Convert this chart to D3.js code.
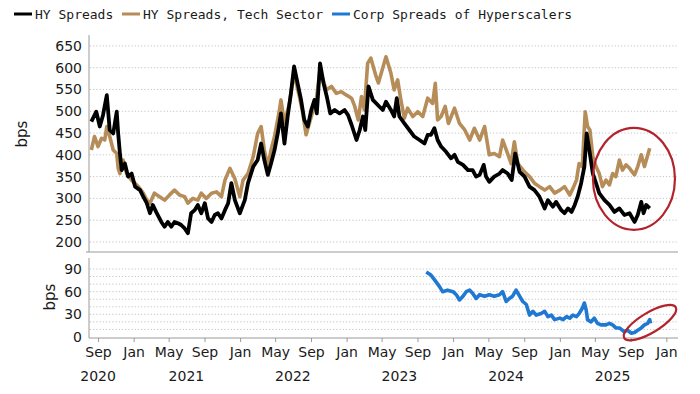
<!DOCTYPE html>
<html>
<head>
<meta charset="utf-8">
<script src="https://cdn.jsdelivr.net/npm/d3@7"></script>
<style>
  body { margin: 0; background: #fff; }
  text { font-family: "DejaVu Sans", sans-serif; }
  .legend text { font-family: "DejaVu Sans Mono", monospace; }
</style>
</head>
<body>
<svg id="vis" width="700" height="394"></svg>
<script>
// HY spreads (black), bps
var hySpreads = [
  ["2020-08-09",476],["2020-08-26",499],["2020-09-07",465],["2020-09-18",491],["2020-10-01",537],["2020-10-11",457],["2020-10-23",449],["2020-11-04",499],["2020-11-09",449],["2020-11-15",403],["2020-11-21",365],["2020-12-02",380],["2020-12-13",350],["2020-12-25",357],
  ["2021-01-06",327],["2021-01-23",319],["2021-02-03",304],["2021-02-15",289],["2021-02-26",266],["2021-03-08",285],["2021-03-19",269],["2021-04-06",246],["2021-04-17",235],["2021-04-28",246],["2021-05-10",235],["2021-05-21",246],["2021-06-02",243],["2021-06-13",239],["2021-06-25",231],["2021-07-06",220],["2021-07-17",266],["2021-07-29",273],["2021-08-09",285],["2021-08-21",266],["2021-09-02",289],["2021-09-13",254],["2021-09-25",246],["2021-10-06",262],["2021-10-17",266],["2021-10-29",254],["2021-11-10",273],["2021-11-21",289],["2021-12-02",335],["2021-12-14",296],["2021-12-31",266],
  ["2022-01-17",296],["2022-01-28",335],["2022-02-15",373],["2022-03-02",388],["2022-03-14",426],["2022-03-25",388],["2022-04-06",354],["2022-04-17",380],["2022-04-29",411],["2022-05-10",449],["2022-05-21",495],["2022-06-02",426],["2022-06-13",488],["2022-06-24",541],["2022-07-05",603],["2022-07-17",564],["2022-07-29",526],["2022-08-09",480],["2022-08-21",465],["2022-09-02",503],["2022-09-13",526],["2022-09-21",495],["2022-10-02",610],["2022-10-14",564],["2022-10-25",534],["2022-11-06",495],["2022-11-21",503],["2022-12-08",495],["2022-12-25",503],
  ["2023-01-06",491],["2023-01-18",469],["2023-02-04",434],["2023-02-15",457],["2023-02-26",488],["2023-03-06",457],["2023-03-17",557],["2023-04-01",526],["2023-04-23",511],["2023-05-05",503],["2023-05-16",522],["2023-06-02",503],["2023-06-13",488],["2023-06-22",530],["2023-07-01",488],["2023-07-18",472],["2023-08-04",457],["2023-08-21",442],["2023-09-08",434],["2023-09-25",426],["2023-10-06",446],["2023-10-17",446],["2023-10-29",461],["2023-11-09",434],["2023-11-21",419],["2023-12-08",407],["2023-12-25",392],
  ["2024-01-06",400],["2024-01-17",384],["2024-02-04",377],["2024-02-21",365],["2024-03-08",365],["2024-03-20",350],["2024-04-01",354],["2024-04-15",377],["2024-04-23",350],["2024-05-04",338],["2024-05-21",350],["2024-06-08",357],["2024-06-19",365],["2024-07-06",357],["2024-07-20",342],["2024-08-01",403],["2024-08-16",361],["2024-09-02",350],["2024-09-19",327],["2024-10-06",319],["2024-10-23",304],["2024-11-10",277],["2024-11-21",296],["2024-12-08",281],["2024-12-19",292],
  ["2025-01-06",273],["2025-01-17",266],["2025-01-29",277],["2025-02-10",269],["2025-02-21",285],["2025-03-03",304],["2025-03-15",335],["2025-03-26",373],["2025-04-03",449],["2025-04-12",411],["2025-04-24",357],["2025-05-05",335],["2025-05-16",312],["2025-06-03",296],["2025-06-20",285],["2025-07-07",269],["2025-07-24",277],["2025-08-10",262],["2025-08-28",266],["2025-09-14",246],["2025-09-25",262],["2025-10-07",292],["2025-10-15",266],["2025-10-24",285],["2025-11-05",277]
];

// HY spreads, tech sector (gold)
var techSpreads = [
  ["2020-08-09",411],["2020-08-20",442],["2020-09-01",419],["2020-09-13",438],["2020-09-24",434],["2020-10-01",465],["2020-10-11",442],["2020-10-23",411],["2020-11-04",403],["2020-11-09",369],["2020-11-15",357],["2020-11-26",388],["2020-12-08",357],["2020-12-25",342],
  ["2021-01-17",327],["2021-02-03",312],["2021-02-15",296],["2021-02-26",289],["2021-03-13",312],["2021-03-31",304],["2021-04-17",296],["2021-05-04",308],["2021-05-21",319],["2021-06-07",308],["2021-06-25",304],["2021-07-06",289],["2021-07-23",300],["2021-08-09",296],["2021-08-21",312],["2021-09-07",300],["2021-09-25",312],["2021-10-12",315],["2021-10-29",304],["2021-11-10",342],["2021-11-27",369],["2021-12-14",345],["2021-12-31",304],
  ["2022-01-11",342],["2022-01-28",357],["2022-02-15",396],["2022-03-02",449],["2022-03-14",465],["2022-03-25",411],["2022-04-06",373],["2022-04-17",411],["2022-04-29",442],["2022-05-16",503],["2022-05-21",526],["2022-06-02",472],["2022-06-19",518],["2022-07-05",587],["2022-07-23",534],["2022-08-04",495],["2022-08-15",446],["2022-09-02",488],["2022-09-19",526],["2022-10-02",595],["2022-10-23",549],["2022-11-10",557],["2022-11-27",541],["2022-12-14",545],
  ["2023-01-01",537],["2023-01-18",530],["2023-01-29",511],["2023-02-10",480],["2023-02-21",534],["2023-03-03",503],["2023-03-14",610],["2023-03-25",622],["2023-04-12",580],["2023-04-20",565],["2023-05-16",625],["2023-06-02",587],["2023-06-13",549],["2023-06-25",572],["2023-07-06",526],["2023-07-18",484],["2023-07-29",507],["2023-08-16",488],["2023-09-02",499],["2023-09-19",488],["2023-10-06",530],["2023-10-23",518],["2023-11-01",564],["2023-11-09",480],["2023-11-21",488],["2023-12-05",511],["2023-12-16",472],
  ["2024-01-06",507],["2024-01-23",472],["2024-02-10",457],["2024-02-27",434],["2024-03-14",461],["2024-04-01",434],["2024-04-18",465],["2024-05-04",400],["2024-05-21",403],["2024-06-08",396],["2024-06-19",434],["2024-07-06",403],["2024-07-18",380],["2024-07-29",430],["2024-08-10",380],["2024-09-02",361],["2024-09-19",350],["2024-10-06",335],["2024-10-23",327],["2024-11-10",319],["2024-11-27",327],["2024-12-14",312],
  ["2025-01-01",319],["2025-01-17",327],["2025-02-04",308],["2025-02-15",323],["2025-02-27",342],["2025-03-08",380],["2025-03-19",373],["2025-03-29",499],["2025-04-06",465],["2025-04-14",457],["2025-04-24",396],["2025-05-05",373],["2025-05-16",357],["2025-05-27",327],["2025-06-08",342],["2025-06-20",331],["2025-07-01",357],["2025-07-12",350],["2025-07-24",388],["2025-08-04",365],["2025-08-16",377],["2025-08-28",369],["2025-09-14",354],["2025-09-25",373],["2025-10-07",400],["2025-10-18",373],["2025-11-05",415]
];

// corp spreads of hyperscalers (blue)
var hyperSpreads = [
  ["2023-10-01",86],["2023-10-17",82],["2023-10-29",76],["2023-11-15",67],["2023-11-26",60],["2023-12-13",62],
  ["2024-01-01",60],["2024-01-12",56],["2024-01-23",49],["2024-02-04",54],["2024-02-15",60],["2024-02-27",62],["2024-03-08",58],["2024-03-20",51],["2024-04-01",56],["2024-04-18",54],["2024-05-04",56],["2024-05-21",54],["2024-06-08",56],["2024-06-19",60],["2024-07-01",47],["2024-07-12",51],["2024-07-23",54],["2024-08-04",62],["2024-08-16",54],["2024-08-27",47],["2024-09-08",43],["2024-09-19",29],["2024-10-01",34],["2024-10-12",29],["2024-10-29",31],["2024-11-10",34],["2024-11-21",27],["2024-12-03",29],["2024-12-14",23],
  ["2025-01-01",25],["2025-01-12",23],["2025-01-24",27],["2025-02-04",25],["2025-02-15",29],["2025-02-27",27],["2025-03-08",31],["2025-03-19",38],["2025-03-26",45],["2025-04-01",36],["2025-04-06",23],["2025-04-18",20],["2025-04-29",25],["2025-05-10",18],["2025-05-22",16],["2025-06-08",16],["2025-06-20",18],["2025-07-01",16],["2025-07-12",12],["2025-07-24",12],["2025-08-10",7],["2025-08-21",9],["2025-09-02",5],["2025-09-14",6],["2025-09-25",9],["2025-10-07",12],["2025-10-18",16],["2025-10-29",18],["2025-11-05",23],["2025-11-08",18]
];

var seriesNames = ["HY Spreads", "HY Spreads, Tech Sector", "Corp Spreads of Hyperscalers"];
var seriesColors = ["#000000", "#b68d59", "#1f78d1"];
var topTicks = [200, 250, 300, 350, 400, 450, 500, 550, 600, 650];
var bottomTicks = [0, 30, 60, 90];
var bottomGrid = [10, 20, 30, 40, 50, 60, 70, 80, 90];
var yearLabels = [["2020-09-01","2020"],["2021-07-01","2021"],["2022-07-01","2022"],["2023-07-01","2023"],["2024-07-01","2024"],["2025-07-01","2025"]];

var svg = d3.select("#vis");
var parse = d3.timeParse("%Y-%m-%d");

svg.append("rect").attr("width", 700).attr("height", 394).attr("fill", "#fff");

var x = d3.scaleTime()
    .domain([parse("2020-08-01"), parse("2026-02-10")])
    .range([89, 678]);

var yTop = d3.scaleLinear().domain([177, 675]).range([252, 35]);
var yBot = d3.scaleLinear().domain([0, 90]).range([337, 269]);

var axisColor = "#9a9a9a";

// grid lines
svg.append("g").selectAll("line")
  .data(topTicks)
  .enter().append("line")
    .attr("x1", 90).attr("x2", 678)
    .attr("y1", function(d) { return yTop(d); })
    .attr("y2", function(d) { return yTop(d); })
    .attr("stroke", "#c4c4c4").attr("stroke-dasharray", "1.2,2");

svg.append("g").selectAll("line")
  .data(bottomGrid)
  .enter().append("line")
    .attr("x1", 90).attr("x2", 678)
    .attr("y1", function(d) { return yBot(d); })
    .attr("y2", function(d) { return yBot(d); })
    .attr("stroke", "#c4c4c4").attr("stroke-dasharray", "1.2,2");

// frame lines
svg.append("line").attr("x1", 89).attr("x2", 89).attr("y1", 35).attr("y2", 252).attr("stroke", axisColor);
svg.append("line").attr("x1", 86).attr("x2", 678).attr("y1", 252).attr("y2", 252).attr("stroke", axisColor);
svg.append("line").attr("x1", 89).attr("x2", 89).attr("y1", 258).attr("y2", 338).attr("stroke", axisColor);

// y axes
var gTop = svg.append("g").attr("transform", "translate(89,0)")
    .call(d3.axisLeft(yTop).tickValues(topTicks).tickSize(0).tickPadding(7));
gTop.select(".domain").remove();

var gBot = svg.append("g").attr("transform", "translate(89,0)")
    .call(d3.axisLeft(yBot).tickValues(bottomTicks).tickSize(0).tickPadding(7));
gBot.select(".domain").remove();

svg.selectAll(".tick text").attr("font-size", 14).attr("fill", "#1a1a1a")
    .attr("font-family", "DejaVu Sans, sans-serif");

// x axis
var gX = svg.append("g").attr("transform", "translate(0,338)")
    .call(d3.axisBottom(x)
      .ticks(d3.timeMonth.every(4))
      .tickFormat(d3.timeFormat("%b"))
      .tickSize(4).tickSizeOuter(0).tickPadding(5));
gX.select(".domain").attr("stroke", axisColor).attr("d", "M89,0H678");
gX.selectAll(".tick line").attr("stroke", axisColor);
gX.selectAll(".tick text").attr("font-size", 14).attr("fill", "#1a1a1a")
    .attr("font-family", "DejaVu Sans, sans-serif");

svg.append("g").selectAll("text")
  .data(yearLabels)
  .enter().append("text")
    .attr("x", function(d) { return x(parse(d[0])); })
    .attr("y", 381)
    .attr("text-anchor", "middle")
    .attr("font-size", 14).attr("fill", "#1a1a1a")
    .text(function(d) { return d[1]; });

// axis titles
svg.append("text").attr("transform", "translate(26.5,134) rotate(-90)")
    .attr("text-anchor", "middle").attr("font-size", 15).attr("fill", "#1a1a1a").text("bps");
svg.append("text").attr("transform", "translate(54.5,297) rotate(-90)")
    .attr("text-anchor", "middle").attr("font-size", 15).attr("fill", "#1a1a1a").text("bps");

// lines
var lineTop = d3.line()
    .x(function(d) { return x(parse(d[0])); })
    .y(function(d) { return yTop(d[1]); });
var lineBot = d3.line()
    .x(function(d) { return x(parse(d[0])); })
    .y(function(d) { return yBot(d[1]); });

svg.append("path").datum(techSpreads)
    .attr("d", lineTop).attr("fill", "none")
    .attr("stroke", seriesColors[1]).attr("stroke-width", 3.6)
    .attr("stroke-linejoin", "round");
svg.append("path").datum(hySpreads)
    .attr("d", lineTop).attr("fill", "none")
    .attr("stroke", seriesColors[0]).attr("stroke-width", 3.8)
    .attr("stroke-linejoin", "round");
svg.append("path").datum(hyperSpreads)
    .attr("d", lineBot).attr("fill", "none")
    .attr("stroke", seriesColors[2]).attr("stroke-width", 3.6)
    .attr("stroke-linejoin", "round");

// red circles
svg.append("ellipse")
    .attr("cx", x(parse("2025-09-12"))).attr("cy", yTop(345))
    .attr("rx", 41).attr("ry", 51)
    .attr("fill", "none").attr("stroke", "#b3232c").attr("stroke-width", 2.2);
svg.append("ellipse")
    .attr("transform", "translate(" + x(parse("2025-11-06")) + "," + yBot(19) + ") rotate(-31)")
    .attr("rx", 30).attr("ry", 10)
    .attr("fill", "none").attr("stroke", "#b3232c").attr("stroke-width", 2.2);

// legend
var legendX = [14, 122, 332];
var legend = svg.append("g").attr("class", "legend");
seriesNames.forEach(function(name, i) {
  legend.append("line")
      .attr("x1", legendX[i]).attr("x2", legendX[i] + 18)
      .attr("y1", 14).attr("y2", 14)
      .attr("stroke", seriesColors[i]).attr("stroke-width", 3);
  legend.append("text")
      .attr("x", legendX[i] + 21).attr("y", 18.5)
      .attr("font-size", 13).attr("fill", "#1a1a1a")
      .text(name);
});
</script>
</body>
</html>
